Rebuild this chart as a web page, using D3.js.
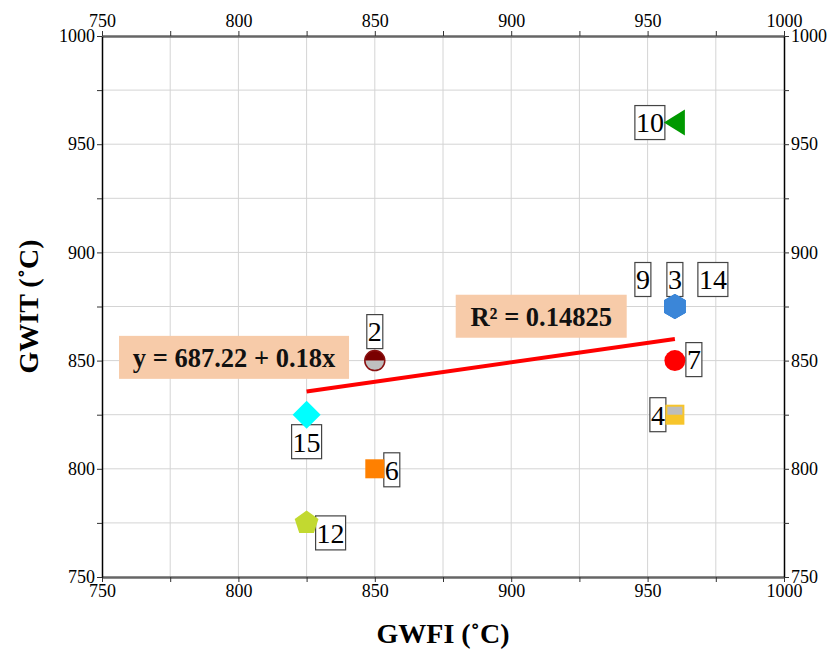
<!DOCTYPE html>
<html>
<head>
<meta charset="utf-8">
<script src="https://cdn.jsdelivr.net/npm/d3@7"></script>
<style>
  body { margin: 0; background: #fff; }
  svg { display: block; font-family: "Liberation Serif", "Times New Roman", serif; }
</style>
</head>
<body>
<div id="chart"></div>
<script>
// Data
const sampleIds = ['9', '14', '10', '3', '7', '4', '2', '15', '6', '12'];
const gwfi = [960, 960, 960, 960, 960, 960, 850, 825, 850, 825];
const gwit = [875, 875, 960, 875, 850, 825, 850, 825, 800, 775];
const xTicks = [750, 800, 850, 900, 950, 1000];
const yTicks = [750, 800, 850, 900, 950, 1000];
const fitIntercept = 687.22;
const fitSlope = 0.18;
const rSquared = 0.14825;

// marker look per sample
const markerStyle = {
  '9':  { shape: 'hexagon', fill: '#3b86d8' },
  '14': { shape: 'hexagon', fill: '#3b86d8' },
  '3':  { shape: 'hexagon', fill: '#3b86d8' },
  '10': { shape: 'triangleLeft', fill: '#009900' },
  '7':  { shape: 'circle', fill: '#ff0000' },
  '4':  { shape: 'halfSquare', fill: '#f7c52b', top: '#bdbdbd' },
  '2':  { shape: 'halfCircle', fill: '#bfbfbf', top: '#7a0000' },
  '15': { shape: 'diamond', fill: '#00ffff' },
  '6':  { shape: 'square', fill: '#ff8000' },
  '12': { shape: 'pentagon', fill: '#c2d930' }
};
// label offset (px) from the marker
const labelOffset = {
  '10': [-25, 0], '9': [-32, -27], '3': [0, -27], '14': [38, -27],
  '7': [19, -1], '4': [-17, 0], '2': [0, -29], '15': [0, 27],
  '6': [17, 1], '12': [24, 10]
};

const width = 832, height = 652;
const margin = { top: 36, right: 48, bottom: 75, left: 102 };
const innerWidth = width - margin.left - margin.right;
const innerHeight = height - margin.top - margin.bottom;

const svg = d3.select('#chart').append('svg')
  .attr('width', width)
  .attr('height', height);

const g = svg.append('g')
  .attr('transform', `translate(${margin.left},${margin.top})`);

const x = d3.scaleLinear().domain([750, 1000]).range([0, innerWidth]);
const y = d3.scaleLinear().domain([750, 1000]).range([innerHeight, 0]);

const gridVals = d3.range(750, 1001, 25);

// grid
g.append('g').selectAll('line')
  .data(gridVals.slice(1, -1))
  .enter().append('line')
  .attr('x1', d => x(d)).attr('x2', d => x(d))
  .attr('y1', 0).attr('y2', innerHeight)
  .attr('stroke', '#d4d4d4').attr('stroke-width', 1);

g.append('g').selectAll('line')
  .data(gridVals.slice(1, -1))
  .enter().append('line')
  .attr('y1', d => y(d)).attr('y2', d => y(d))
  .attr('x1', 0).attr('x2', innerWidth)
  .attr('stroke', '#d4d4d4').attr('stroke-width', 1);

// axes
const fmt = d => (xTicks.includes(d) ? d : '');
const fmtY = d => (yTicks.includes(d) ? d : '');

function styleAxis(sel, color, w) {
  sel.select('.domain').attr('stroke', color).attr('stroke-width', w);
  sel.selectAll('.tick line').attr('stroke', '#333');
  sel.selectAll('.tick text')
    .filter(function() { return this.textContent === ''; })
    .remove();
  sel.selectAll('.tick text')
    .attr('font-size', 18)
    .attr('font-family', '"Liberation Serif", "Times New Roman", serif')
    .attr('fill', '#000');
}

g.append('g')
  .call(d3.axisTop(x).tickValues(gridVals).tickFormat(fmt).tickSize(5).tickSizeOuter(0).tickPadding(4))
  .call(s => styleAxis(s, '#666', 2.5));

g.append('g')
  .attr('transform', `translate(0,${innerHeight})`)
  .call(d3.axisBottom(x).tickValues(gridVals).tickFormat(fmt).tickSize(5).tickSizeOuter(0).tickPadding(2))
  .call(s => styleAxis(s, '#666', 2.5));

g.append('g')
  .call(d3.axisLeft(y).tickValues(gridVals).tickFormat(fmtY).tickSize(5).tickSizeOuter(0).tickPadding(2))
  .call(s => styleAxis(s, '#000', 1.5));

g.append('g')
  .attr('transform', `translate(${innerWidth},0)`)
  .call(d3.axisRight(y).tickValues(gridVals).tickFormat(fmtY).tickSize(5).tickSizeOuter(0).tickPadding(2))
  .call(s => styleAxis(s, '#000', 1.5));

// regression line
const xMin = d3.min(gwfi), xMax = d3.max(gwfi);
g.append('line')
  .attr('x1', x(xMin)).attr('y1', y(fitIntercept + fitSlope * xMin))
  .attr('x2', x(xMax)).attr('y2', y(fitIntercept + fitSlope * xMax))
  .attr('stroke', '#ff0000').attr('stroke-width', 4);

// annotation boxes
function noteBox(cx, cy, w, h, txt) {
  const ng = g.append('g').attr('transform', `translate(${x(cx)},${y(cy)})`);
  ng.append('rect')
    .attr('x', -w / 2).attr('y', -h / 2).attr('width', w).attr('height', h)
    .attr('fill', '#f7cba9');
  ng.append('text')
    .attr('text-anchor', 'middle')
    .attr('dy', '0.35em')
    .attr('font-size', 26.5)
    .attr('font-weight', 'bold')
    .attr('fill', '#111')
    .text(txt);
}

noteBox(798.4, 851.5, 230, 43, `y = ${fitIntercept} + ${fitSlope}x`);
noteBox(911, 870.5, 171, 43, `R² = ${rSquared}`);

// points
const points = sampleIds.map((id, i) => ({ id, gx: gwfi[i], gy: gwit[i] }));

function polygon(n, r, rot) {
  const pts = d3.range(n).map(k => {
    const a = rot + k * 2 * Math.PI / n;
    return [r * Math.cos(a), r * Math.sin(a)];
  });
  return 'M' + pts.map(p => p.join(',')).join('L') + 'Z';
}

// labels first, markers on top
const labels = g.append('g').selectAll('g')
  .data(points)
  .enter().append('g')
  .attr('transform', d => {
    const o = labelOffset[d.id];
    return `translate(${x(d.gx) + o[0]},${y(d.gy) + o[1]})`;
  });

labels.append('text')
  .attr('text-anchor', 'middle')
  .attr('dy', '0.35em')
  .attr('font-size', 28)
  .attr('fill', '#000')
  .text(d => d.id)
  .each(function() {
    const b = this.getBBox();
    d3.select(this.parentNode).insert('rect', 'text')
      .attr('x', b.x - 1).attr('y', -17)
      .attr('width', b.width + 2).attr('height', 34)
      .attr('fill', '#fff')
      .attr('stroke', '#444').attr('stroke-width', 1.2);
  });

const marks = g.append('g').selectAll('g')
  .data(points)
  .enter().append('g')
  .attr('transform', d => `translate(${x(d.gx)},${y(d.gy)})`);

marks.each(function(d) {
  const m = d3.select(this);
  const s = markerStyle[d.id];
  if (s.shape === 'hexagon') {
    m.append('path').attr('d', polygon(6, 12.5, -Math.PI / 2)).attr('fill', s.fill);
  } else if (s.shape === 'triangleLeft') {
    m.append('path').attr('d', 'M-11,0L10,-13L10,13Z').attr('fill', s.fill);
  } else if (s.shape === 'circle') {
    m.append('circle').attr('r', 10.5).attr('fill', s.fill);
  } else if (s.shape === 'halfSquare') {
    m.append('rect').attr('x', -9.5).attr('y', -10).attr('width', 19).attr('height', 20).attr('fill', s.fill);
    m.append('rect').attr('x', -7.5).attr('y', -8).attr('width', 15).attr('height', 8).attr('fill', s.top);
  } else if (s.shape === 'halfCircle') {
    m.append('circle').attr('r', 10).attr('fill', s.fill);
    m.append('path').attr('d', 'M-10,0A10,10 0 0 1 10,0Z').attr('fill', s.top);
    m.append('circle').attr('r', 10).attr('fill', 'none').attr('stroke', '#8a1010').attr('stroke-width', 1.5);
  } else if (s.shape === 'diamond') {
    m.append('path').attr('d', polygon(4, 14, -Math.PI / 2)).attr('fill', s.fill);
  } else if (s.shape === 'square') {
    m.append('rect').attr('x', -9.5).attr('y', -9.5).attr('width', 19).attr('height', 19).attr('fill', s.fill);
  } else if (s.shape === 'pentagon') {
    m.append('path').attr('d', polygon(5, 12.5, -Math.PI / 2)).attr('fill', s.fill);
  }
});

// axis titles
svg.append('text')
  .attr('x', margin.left + innerWidth / 2)
  .attr('y', 643)
  .attr('text-anchor', 'middle')
  .attr('font-size', 28)
  .attr('font-weight', 'bold')
  .text('GWFI (˚C)');

svg.append('text')
  .attr('transform', `translate(38,${margin.top + innerHeight / 2}) rotate(-90)`)
  .attr('text-anchor', 'middle')
  .attr('font-size', 28)
  .attr('font-weight', 'bold')
  .text('GWIT (˚C)');
</script>
</body>
</html>
